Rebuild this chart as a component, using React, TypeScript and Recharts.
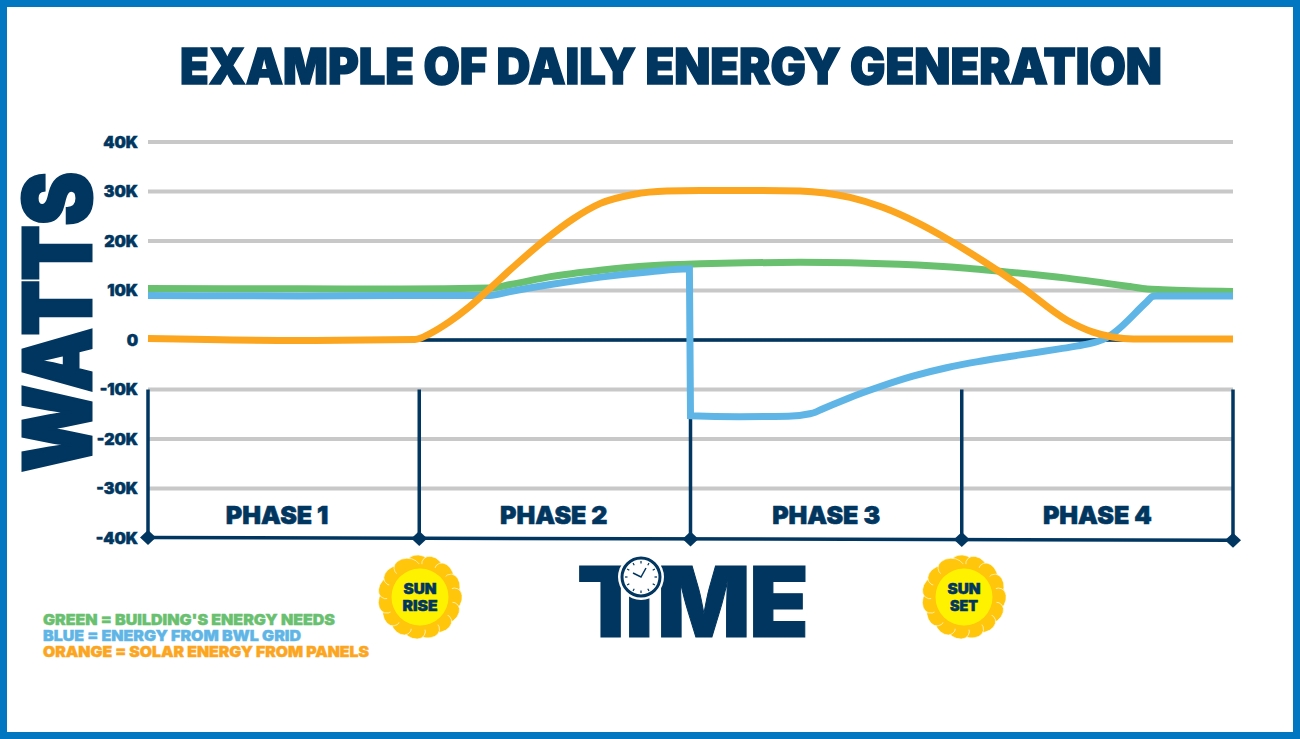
import { ComposedChart, Line, XAxis, YAxis, CartesianGrid, ReferenceLine, ReferenceDot } from 'recharts';

const NAVY = '#003660';
const FONT = 'Inter, sans-serif';

// time axis runs 0-100, one phase = 25
const phaseTicks = [0, 25, 50, 75, 100];
const diamondWatts = [-39.9, -40.1, -40.2, -40.3, -40.45];
const phaseNames = ['PHASE 1', 'PHASE 2', 'PHASE 3', 'PHASE 4'];
const phaseLabelTimes = [11.9, 37.4, 62.5, 87.5];
const wattTicks = [-40, -30, -20, -10, 0, 10, 20, 30, 40];

const greenTimes = [0, 14, 23.2, 31.5, 33.4, 37.1, 41.7, 46.3, 50.9, 55, 60.1, 69.3, 75.5, 78.5, 84.7, 90.5, 92.1, 93.5, 100];
const greenWatts = [10.4, 10.35, 10.3, 10.5, 11.2, 12.8, 14.1, 15, 15.4, 15.6, 15.7, 15.3, 14.5, 13.9, 12.5, 10.8, 10.3, 10.15, 9.8];

const blueTimes = [0, 14, 23.2, 31.5, 33.4, 37.1, 41.7, 46.3, 49.9, 50, 54.5, 59, 61, 61.5, 62, 64.5, 67.5, 70.5, 73.6, 76.7, 80.4, 84, 86.2, 87.5, 88.3, 89, 92, 92.6, 92.9, 100];
const blueWatts = [9, 8.9, 9, 9, 9.8, 11.2, 12.7, 13.8, 14.4, -15.3, -15.5, -15.4, -14.9, -14.6, -14.1, -11.8, -9.4, -7.3, -5.6, -4.3, -3, -1.8, -1, -0.3, 0.4, 1.4, 7.6, 8.8, 8.9, 8.9];

const orangeTimes = [0, 14, 24.6, 26, 27.8, 29.5, 31.3, 33.8, 36.4, 39.2, 41.7, 44.7, 47.8, 50.9, 56.4, 60.1, 62.4, 64.7, 67.7, 70.9, 73.9, 77, 80.4, 84.7, 87.1, 88.9, 90.8, 100];
const orangeWatts = [0.3, -0.1, 0.1, 1.3, 3.7, 6.5, 10, 15, 19.9, 24.5, 27.6, 29.4, 30.1, 30.2, 30.2, 30.1, 29.7, 28.8, 26.8, 23.7, 20.1, 15.9, 10.9, 4, 1.6, 0.6, 0.2, 0.2];

const legendLines = [
  { text: "GREEN = BUILDING'S ENERGY NEEDS", color: '#69c06f', width: 292 },
  { text: 'BLUE = ENERGY FROM BWL GRID', color: '#5fb6e6', width: 258 },
  { text: 'ORANGE = SOLAR ENERGY FROM PANELS', color: '#fca51e', width: 326 },
];

const toRows = (times: number[], watts: number[]) => times.map((time, i) => ({ time, watts: watts[i] }));

const Diamond = (props: any) => (
  <path d={`M${props.cx - 8} ${props.cy}L${props.cx} ${props.cy - 7.5}L${props.cx + 8} ${props.cy}L${props.cx} ${props.cy + 7.5}Z`} fill={NAVY} />
);

function Sun({ cx, cy, lines }: { cx: number; cy: number; lines: { text: string; width: number }[] }) {
  const petals = Array.from({ length: 15 }, (_, i) => (i * 360) / 15);
  return (
    <g>
      {petals.map(a => (
        <ellipse
          key={a}
          cx={cx}
          cy={cy - 32}
          rx={13}
          ry={9.5}
          fill="#ffc60b"
          stroke="#fff"
          strokeWidth={0.6}
          transform={`rotate(${a} ${cx} ${cy}) rotate(22 ${cx} ${cy - 32})`}
        />
      ))}
      <circle cx={cx} cy={cy} r={33} fill="#ffc60b" />
      <circle cx={cx} cy={cy} r={28.5} fill="#fff200" />
      {lines.map((l, i) => (
        <text
          key={l.text}
          x={cx - l.width / 2}
          y={cy - 3 + i * 17}
          textLength={l.width}
          lengthAdjust="spacingAndGlyphs"
          fontFamily={FONT}
          fontWeight={900}
          fontSize={14}
          stroke={NAVY}
          strokeWidth={0.5}
          fill={NAVY}
        >
          {l.text}
        </text>
      ))}
    </g>
  );
}

function Decorations() {
  const marks = Array.from({ length: 12 }, (_, i) => i * 30);
  return (
    <svg width={1300} height={739} style={{ position: 'absolute', left: 0, top: 0 }}>
      <text x={180} y={84} textLength={982} lengthAdjust="spacingAndGlyphs" fontFamily={FONT} fontWeight={900} fontSize={50} stroke={NAVY} strokeWidth={1.5} fill={NAVY}>
        EXAMPLE OF DAILY ENERGY GENERATION
      </text>
      <text transform="rotate(-90) translate(-472 91)" textLength={300} lengthAdjust="spacingAndGlyphs" fontFamily={FONT} fontWeight={900} fontSize={93} stroke={NAVY} strokeWidth={3} fill={NAVY}>
        WATTS
      </text>
      <Sun cx={420} cy={597} lines={[{ text: 'SUN', width: 33 }, { text: 'RISE', width: 35 }]} />
      <Sun cx={964} cy={597} lines={[{ text: 'SUN', width: 33 }, { text: 'SET', width: 28 }]} />

      <text x="577 625 657 749" y={637} fontFamily={FONT} fontWeight={900} fontSize={98} stroke={NAVY} strokeWidth={1} fill={NAVY}>
        TIME
      </text>
      <circle cx={641} cy={577} r={23} fill="#fff" />
      <circle cx={641} cy={577} r={19} fill="#fff" stroke={NAVY} strokeWidth={3} />
      {marks.map(a => (
        <rect key={a} x={640.4} y={561} width={1.2} height={2.5} fill={NAVY} transform={`rotate(${a} 641 577)`} />
      ))}
      <path d="M633 573L641 577L646 568" fill="none" stroke={NAVY} strokeWidth={1.5} />

      {legendLines.map((l, i) => (
        <text key={l.text} x={43} y={625 + i * 16} textLength={l.width} lengthAdjust="spacingAndGlyphs" fontFamily={FONT} fontWeight={900} fontSize={14.5} stroke={l.color} strokeWidth={0.4} fill={l.color}>
          {l.text}
        </text>
      ))}
    </svg>
  );
}

export default function App() {
  return (
    <div style={{ position: 'absolute', left: 0, top: 0, width: 1300, height: 739, background: '#fff' }}>
      <ComposedChart
        width={1300}
        height={739}
        margin={{ top: 142, right: 67, bottom: 201, left: 0 }}
        style={{ position: 'absolute', left: 0, top: 0 }}
      >
        <CartesianGrid horizontal vertical={false} stroke="#c8c8c8" strokeWidth={4} horizontalValues={wattTicks.slice(1)} />
        <XAxis type="number" dataKey="time" domain={[0, 100]} ticks={phaseTicks} hide allowDuplicatedCategory />
        <YAxis
          type="number"
          width={148}
          domain={[-40, 40]}
          ticks={wattTicks}
          axisLine={false}
          tickLine={false}
          tickMargin={4}
          tickFormatter={(v: number) => (v === 0 ? '0' : `${v}K`)}
          tick={{ fill: NAVY, stroke: NAVY, strokeWidth: 0.5, fontFamily: FONT, fontWeight: 900, fontSize: 16 }}
        />

        <ReferenceLine y={0} stroke={NAVY} strokeWidth={3.5} />
        {phaseTicks.map(t => (
          <ReferenceLine key={t} segment={[{ x: t, y: -10 }, { x: t, y: -40 }]} stroke={NAVY} strokeWidth={3.5} />
        ))}
        <ReferenceLine
          segment={[{ x: 0, y: diamondWatts[0] }, { x: 100, y: diamondWatts[4] }]}
          stroke={NAVY}
          strokeWidth={3.5}
          ifOverflow="visible"
        />
        {phaseTicks.map((t, i) => (
          <ReferenceDot key={t} x={t} y={diamondWatts[i]} r={8} shape={Diamond} ifOverflow="visible" />
        ))}
        {phaseNames.map((name, i) => (
          <ReferenceDot
            key={name}
            x={phaseLabelTimes[i]}
            y={-35.3}
            r={0}
            fill="none"
            stroke="none"
            label={{ value: name, position: 'center', fill: NAVY, stroke: NAVY, strokeWidth: 0.6, fontFamily: FONT, fontWeight: 900, fontSize: 25 }}
          />
        ))}

        <Line data={toRows(greenTimes, greenWatts)} dataKey="watts" type="monotone" stroke="#69c06f" strokeWidth={7} dot={false} isAnimationActive={false} />
        <Line data={toRows(blueTimes, blueWatts)} dataKey="watts" type="monotone" stroke="#5fb6e6" strokeWidth={7} dot={false} isAnimationActive={false} />
        <Line data={toRows(orangeTimes, orangeWatts)} dataKey="watts" type="monotone" stroke="#fca51e" strokeWidth={7} dot={false} isAnimationActive={false} />
      </ComposedChart>
      <Decorations />
      <div style={{ position: 'absolute', left: 0, top: 0, width: 1300, height: 739, boxSizing: 'border-box', border: '7px solid #0077c0', pointerEvents: 'none' }} />
    </div>
  );
}
